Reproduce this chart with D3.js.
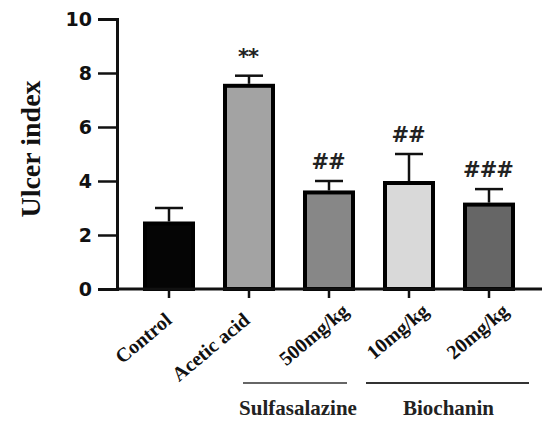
<!DOCTYPE html>
<html><head><meta charset="utf-8">
<script src="https://cdn.jsdelivr.net/npm/d3@7"></script>
<style>body{margin:0;background:#fff}</style>
</head><body>
<svg id="c" width="545" height="423"></svg>
<script>
const categories = ["Control","Acetic acid","500mg/kg","10mg/kg","20mg/kg"];
const means = [2.5, 7.6, 3.65, 4.0, 3.2];
const errors = [0.5, 0.3, 0.35, 1.0, 0.5];
const annotations = ["", "**", "##", "##", "###"];
const fills = ["#050505","#a3a3a3","#878787","#d9d9d9","#666666"];
const yTicks = [0,2,4,6,8,10];
const groupNames = ["Sulfasalazine", "Biochanin"];
const groupMembers = [["500mg/kg"], ["10mg/kg","20mg/kg"]];

const svg = d3.select("#c");
const x0 = 117, x1 = 542, yTop = 19, yBot = 289;
const serif = "Liberation Serif, Times New Roman, serif";
const x = d3.scaleBand().domain(categories).range([143, 515]).paddingInner(0.35).paddingOuter(0);
const y = d3.scaleLinear().domain([0,10]).range([yBot, yTop]);
const bw = x.bandwidth();

// y axis
const ya = svg.append("g").attr("transform",`translate(${x0},0)`)
  .call(d3.axisLeft(y).tickValues(yTicks).tickSize(19).tickPadding(6));
ya.select(".domain").attr("stroke-width",3).attr("stroke","#111");
ya.selectAll(".tick line").attr("stroke-width",2.5).attr("stroke","#111");
ya.selectAll(".tick text").attr("font-family","DejaVu Sans, sans-serif")
  .attr("font-weight","bold").attr("font-size",19).attr("fill","#111");

// bars + error bars + annotations
const g = svg.append("g");
categories.forEach((c,i)=>{
  const cx = x(c)+bw/2;
  const top = y(means[i]+errors[i]);
  g.append("line").attr("x1",cx).attr("x2",cx).attr("y1",y(means[i])).attr("y2",top)
    .attr("stroke","#111").attr("stroke-width",2.5);
  g.append("line").attr("x1",cx-14).attr("x2",cx+14).attr("y1",top).attr("y2",top)
    .attr("stroke","#111").attr("stroke-width",2.5);
  g.append("rect").attr("x",x(c)+2).attr("y",y(means[i])+2).attr("width",bw-4).attr("height",yBot-y(means[i])-2)
    .attr("fill",fills[i]).attr("stroke","#000").attr("stroke-width",4);
  if (annotations[i]) {
    g.append("text").attr("x",cx-1).attr("y",top-12).attr("text-anchor","middle")
      .attr("font-family","DejaVu Sans, sans-serif").attr("font-weight","bold").attr("font-size",21).attr("fill","#222")
      .attr("letter-spacing",-1).text(annotations[i]);
  }
});

// x axis
const xa = svg.append("g").attr("transform",`translate(0,${yBot})`)
  .call(d3.axisBottom(x).tickSize(9).tickFormat(""));
xa.select(".domain").attr("d",`M${x0},0H${x1}`).attr("stroke-width",3).attr("stroke","#111");
xa.selectAll(".tick line").attr("stroke-width",2.5).attr("stroke","#111");

// rotated x labels
const labelDx = [4, 2, 21, 21, 21];
const labelY = [322, 322, 313, 313, 313];
categories.forEach((c,i)=>{
  const cx = x(c)+bw/2;
  svg.append("text").attr("transform",`translate(${cx+labelDx[i]},${labelY[i]}) rotate(-40)`)
    .attr("text-anchor","end").attr("font-family",serif)
    .attr("font-weight","bold").attr("font-size",20).attr("fill","#111").text(c);
});

// group lines & labels
const groupExt = [[-60,-8],[-17,14]];
groupNames.forEach((name,k)=>{
  const m = groupMembers[k];
  const a = x(m[0]) + groupExt[k][0], b = x(m[m.length-1]) + bw + groupExt[k][1];
  svg.append("line").attr("x1",a).attr("x2",b).attr("y1",383).attr("y2",383)
    .attr("stroke","#333").attr("stroke-width",k===0?1.5:2);
  svg.append("text").attr("x",(a+b)/2 + (k===0?3:1)).attr("y",415).attr("text-anchor","middle")
    .attr("font-family",serif).attr("font-weight","bold")
    .attr("font-size",21).attr("fill","#222").text(name);
});

// y label
svg.append("text").attr("transform","translate(40,149) rotate(-90)").attr("text-anchor","middle")
  .attr("font-family",serif).attr("font-weight","bold")
  .attr("font-size",28).attr("fill","#111").text("Ulcer index");
</script>
</body></html>
